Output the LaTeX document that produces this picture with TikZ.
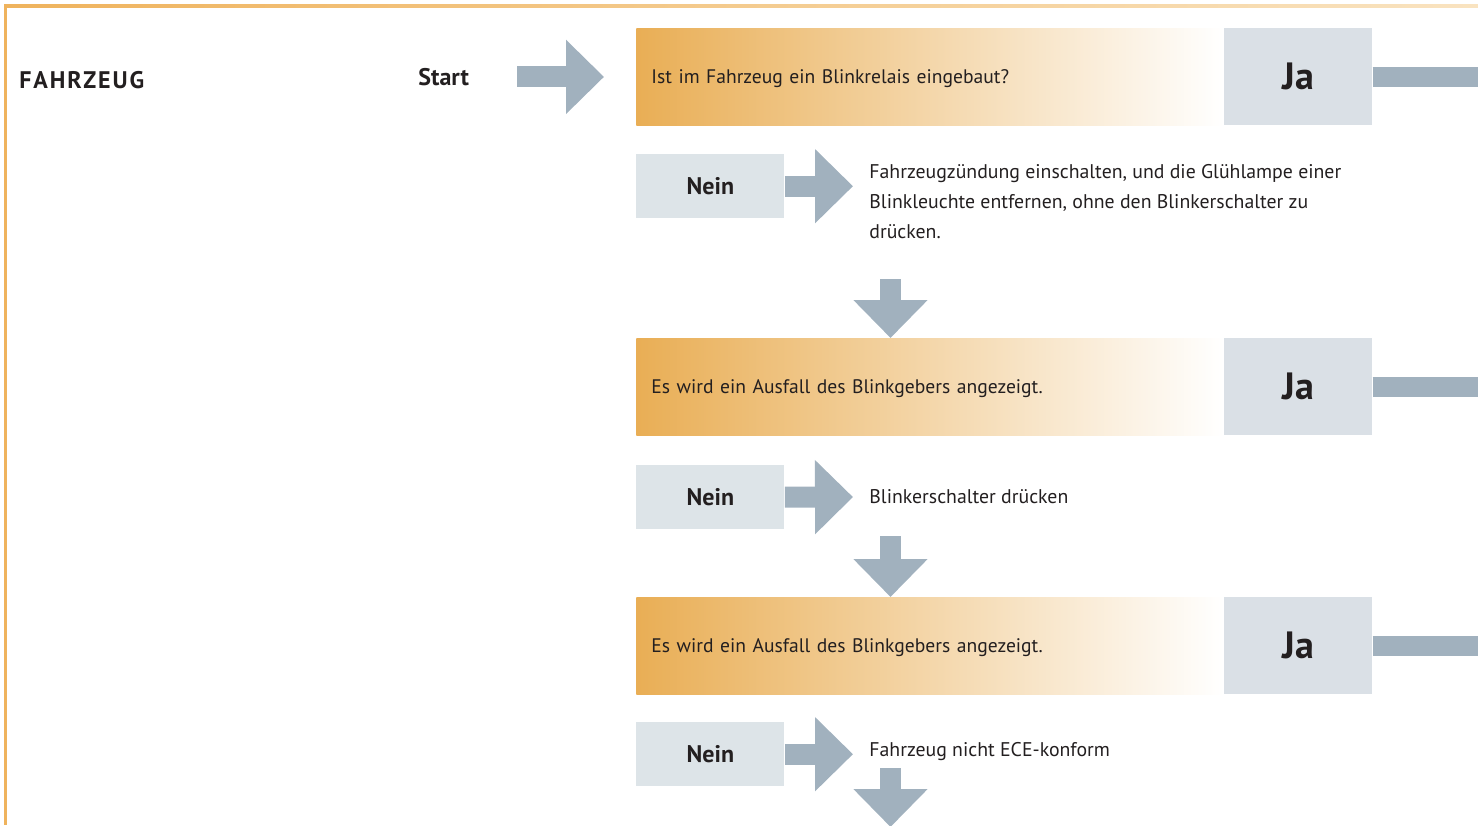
\documentclass[tikz,border=0pt]{standalone}
\usepackage{fontspec}
\setmainfont{PT Sans}
\usetikzlibrary{positioning,arrows.meta}

\definecolor{frameorange}{HTML}{EFB35D}
\definecolor{framelight}{HTML}{F9E3C0}
\definecolor{qorange}{HTML}{E9AE55}
\definecolor{jagray}{HTML}{DAE0E6}
\definecolor{neingray}{HTML}{DDE4E8}
\definecolor{arrowgray}{HTML}{A1B1BE}
\definecolor{ink}{HTML}{231F20}

\tikzset{
  qbox/.style={left color=qorange, right color=white, minimum width=293.5pt, minimum height=48.5pt,
    text width=278.5pt, inner xsep=7.5pt, align=left, text=ink, text depth=0pt,
    font=\fontsize{9.8}{12}\selectfont},
  jabox/.style={fill=jagray, minimum width=74pt, minimum height=48.5pt, text=ink,
    font=\bfseries\fontsize{19}{22}\selectfont},
  neinbox/.style={fill=neingray, minimum width=74pt, minimum height=32pt, text=ink,
    font=\bfseries\fontsize{12}{14}\selectfont},
  note/.style={inner sep=0pt, align=left, text=ink, font=\fontsize{9.9}{15}\selectfont},
  heading/.style={anchor=west, inner sep=0pt, text=ink, font=\bfseries\fontsize{12}{14}\selectfont},
  blockarrow/.style={draw=arrowgray, line width=10.5pt, -{Triangle[length=19pt, width=36pt]}},
  jabar/.style={draw=arrowgray, line width=10pt},
}

\begin{document}
\begin{tikzpicture}[x=0.5pt, y=-0.5pt]
\useasboundingbox (0,0) rectangle (1478,825);

% Frame
\shade[left color=frameorange, right color=framelight] (4,4.5) rectangle (1478,7);
\fill[frameorange] (4,4.5) rectangle (6.5,825);

% Labels
\node[heading] (fahrzeug) at (19,80) {\addfontfeatures{LetterSpace=8}FAHRZEUG};
\node[heading] (start) at (418,77) {Start};

% Question 1
\node[qbox, anchor=north west] (q1) at (636,28) {Ist im Fahrzeug ein Blinkrelais eingebaut?};
\node[jabox, right=0pt of q1] (ja1) {Ja};
\node[neinbox, below right=14pt and 0pt of q1.south west] (nein1) {Nein};
\node[note, anchor=north west] (t1) at (869,164) {Fahrzeugzündung einschalten, und die Glühlampe einer\\Blinkleuchte entfernen, ohne den Blinkerschalter zu\\drücken.};

% Question 2
\node[qbox, anchor=north west] (q2) at (636,338) {Es wird ein Ausfall des Blinkgebers angezeigt.};
\node[jabox, right=0pt of q2] (ja2) {Ja};
\node[neinbox, below right=14.5pt and 0pt of q2.south west] (nein2) {Nein};
\node[note, anchor=west] (t2) at (869,497) {Blinkerschalter drücken};

% Question 3
\node[qbox, anchor=north west] (q3) at (636,597) {Es wird ein Ausfall des Blinkgebers angezeigt.};
\node[jabox, right=0pt of q3] (ja3) {Ja};
\node[neinbox, below right=13.5pt and 0pt of q3.south west] (nein3) {Nein};
\node[note, anchor=west] (t3) at (869,752) {Fahrzeug nicht ECE-konform};

% Arrows
\coordinate (rim) at (1478,0);
\coordinate (d1) at (890.5,279);
\coordinate (d2) at (890.5,536);
\coordinate (d3) at (890.5,768);
\coordinate (d3end) at (890.5,827);

\draw[blockarrow, shorten >=16pt] (q1.west -| start.east) ++(48,0) -- (q1.west);
\draw[blockarrow, shorten >=8pt] (nein1.east) -- (nein1.east -| t1.west);
\draw[blockarrow, shorten >=8pt] (nein2.east) -- (t2.west);
\draw[blockarrow, shorten >=8pt] (nein3.east) -- (nein3.east -| t3.west);
\draw[blockarrow] (d1) -- (d1 |- q2.north);
\draw[blockarrow] (d2) -- (d2 |- q3.north);
\draw[blockarrow] (d3) -- (d3end);

% Ja exits
\draw[jabar] (ja1.east) -- (ja1.east -| rim);
\draw[jabar] (ja2.east) -- (ja2.east -| rim);
\draw[jabar] (ja3.east) -- (ja3.east -| rim);

\end{tikzpicture}
\end{document}
